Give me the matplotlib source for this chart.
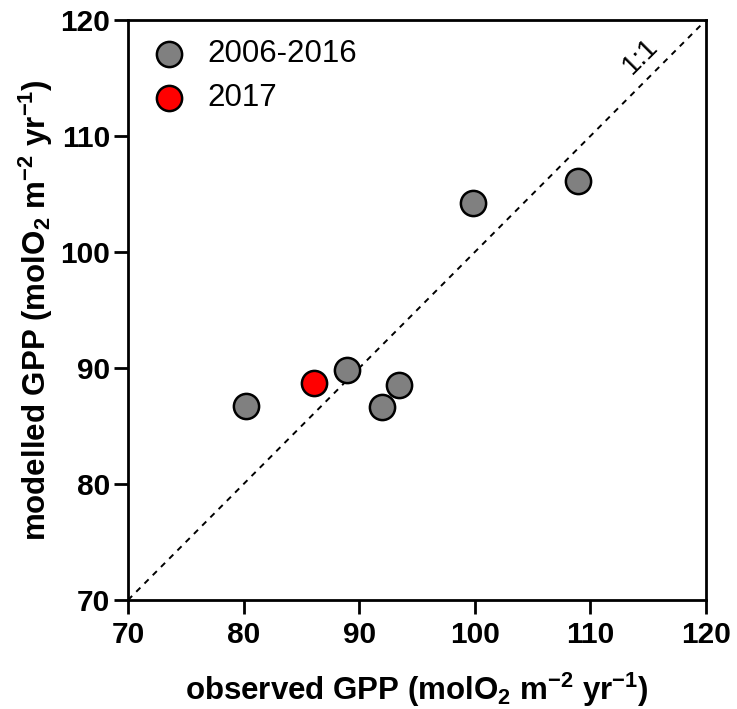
import numpy as np
import matplotlib
matplotlib.use('Agg')
import matplotlib.pyplot as plt

plt.rcParams['font.family'] = ['Liberation Sans', 'DejaVu Sans']
plt.rcParams['mathtext.fontset'] = 'custom'
plt.rcParams['mathtext.rm'] = 'Liberation Sans'
plt.rcParams['mathtext.bf'] = 'Liberation Sans:bold'

# observed vs modelled GPP
obs_hist = [80.2, 88.9, 92.0, 93.4, 99.8, 108.9]
mod_hist = [86.7, 89.8, 86.6, 88.5, 104.2, 106.1]
obs_2017 = [86.1]
mod_2017 = [88.7]

fig = plt.figure(figsize=(7.37, 7.09), dpi=100)
ax = fig.add_axes([0.1737, 0.1537, 0.958 - 0.1737, 0.9718 - 0.1537])

# 1:1 line
ax.plot([70, 120], [70, 120], ls=(0, (3, 3)), color='black', lw=1.4, zorder=1)
ax.text(114.3, 116.9, '1:1', rotation=45, fontsize=20, ha='center', va='center')

ax.scatter(obs_hist, mod_hist, s=330, c='#808080', edgecolors='black',
           linewidths=1.8, zorder=3, label='2006-2016')
ax.scatter(obs_2017, mod_2017, s=330, c='#ff0000', edgecolors='black',
           linewidths=1.8, zorder=3, label='2017')

ax.set_xlim(70, 120)
ax.set_ylim(70, 120)
ax.set_xticks(np.arange(70, 121, 10))
ax.set_yticks(np.arange(70, 121, 10))
ax.tick_params(labelsize=21.5, width=2, length=10, direction='out', pad=3)
ax.tick_params(axis='x', pad=5)
for lab in ax.get_xticklabels() + ax.get_yticklabels():
    lab.set_fontweight('bold')
for sp in ax.spines.values():
    sp.set_linewidth(2)

ax.set_xlabel(r'observed GPP (molO$_\mathbf{2}$ m$^\mathbf{-2}$ yr$^\mathbf{-1}$)',
              fontsize=22.5, fontweight='bold', labelpad=16)
ax.set_ylabel(r'modelled GPP (molO$_\mathbf{2}$ m$^\mathbf{-2}$ yr$^\mathbf{-1}$)',
              fontsize=22.5, fontweight='bold', labelpad=4)

ax.legend(loc='upper left', frameon=False, fontsize=22.5, handletextpad=0.55,
          borderaxespad=0.2, labelspacing=0.45, handlelength=1.4, scatterpoints=1)

fig.savefig('out.png', dpi=100)
